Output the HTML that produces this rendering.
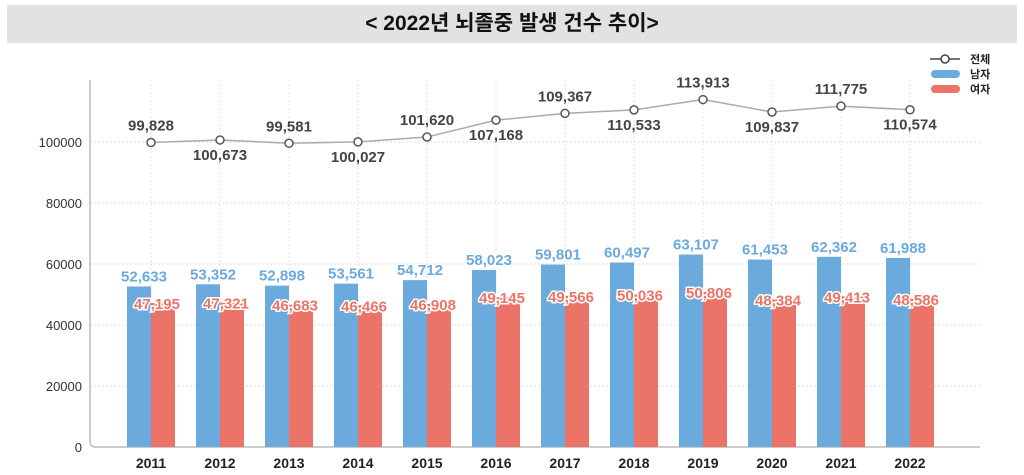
<!DOCTYPE html>
<html><head><meta charset="utf-8"><style>
body{margin:0;background:#fff;width:1024px;height:475px;overflow:hidden;font-family:"Liberation Sans","Noto Sans CJK KR",sans-serif}
#title{position:absolute;left:7px;top:5px;width:1010px;height:38px;background:#e2e2e2;text-align:center;line-height:38px;font-size:21px;font-weight:bold;color:#111;font-family:"Liberation Sans","Noto Sans CJK KR",sans-serif}
svg{position:absolute;left:0;top:0}
</style></head><body>
<div id="title">&lt; 2022년 뇌졸중 발생 건수 추이&gt;</div>
<svg id="chart" width="1024" height="475"></svg>
<script>
const years=["2011","2012","2013","2014","2015","2016","2017","2018","2019","2020","2021","2022"];
const total=[99828,100673,99581,100027,101620,107168,109367,110533,113913,109837,111775,110574];
const male=[52633,53352,52898,53561,54712,58023,59801,60497,63107,61453,62362,61988];
const female=[47195,47321,46683,46466,46908,49145,49566,50036,50806,48384,49413,48586];
const yTicks=[0,20000,40000,60000,80000,100000];
const NS="http://www.w3.org/2000/svg";
const svg=document.getElementById('chart');
const x0=90,x1=980,yTop=80,yZero=447,yMaxV=100000,y100=142;
const y=v=>yZero-(yZero-y100)*v/yMaxV;
const cx=i=>151+i*69;
const fmt=v=>v.toLocaleString('en-US');
function mk(t,a,p){const e=document.createElementNS(NS,t);for(const k in a)e.setAttribute(k,a[k]);(p||svg).appendChild(e);return e;}
// grid
yTicks.forEach(t=>{
 if(t>0){const g=mk('line',{x1:x0,x2:x1,y1:y(t),y2:y(t),stroke:'#ddd','stroke-dasharray':'2,2'});
 
 }
 const l=mk('text',{x:82,y:y(t)+5,'text-anchor':'end','font-size':13,fill:'#333'});l.textContent=t;
 
 
});
years.forEach((yr,i)=>{
 const g=mk('line',{x1:cx(i),x2:cx(i),y1:yTop,y2:yZero,stroke:'#e2e2e2','stroke-dasharray':'2,2'});
 
 
});
const ax=mk('path',{d:`M${x0},${yTop} V${yZero-6} Q${x0},${yZero} ${x0+6},${yZero} H${x1}`,fill:'none',stroke:'#bbb','stroke-width':1.5});


const bw=24;
years.forEach((yr,i)=>{
 const b=mk('rect',{x:cx(i)-bw,y:y(male[i]),width:bw,height:yZero-y(male[i]),fill:'#6aaadc'});
 
 
 const r=mk('rect',{x:cx(i),y:y(female[i]),width:bw,height:yZero-y(female[i]),fill:'#ec7368'});
 
 
 const xl=mk('text',{x:cx(i),y:468,'text-anchor':'middle','font-size':14,'font-weight':'bold',fill:'#222'});xl.textContent=yr;
 
 
});
years.forEach((yr,i)=>{
 const ml=mk('text',{x:cx(i)-7,y:y(male[i])-5,'text-anchor':'middle','font-size':15,'font-weight':'bold',fill:'#6aaadc',stroke:'#fff','stroke-width':2,'paint-order':'stroke'});ml.textContent=fmt(male[i]);
 
 
 const fl=mk('text',{x:cx(i)+6,y:y(female[i])+6,'text-anchor':'middle','font-size':15,'font-weight':'bold',fill:'#ec7368',stroke:'#fff','stroke-width':3,'paint-order':'stroke'});fl.textContent=fmt(female[i]);
 
 
});
const line=mk('polyline',{points:total.map((v,i)=>cx(i)+','+y(v)).join(' '),fill:'none',stroke:'#aaa','stroke-width':1.5});


total.forEach((v,i)=>{
 const c=mk('circle',{cx:cx(i),cy:y(v),r:4,fill:'#fff',stroke:'#555','stroke-width':1.5});
 
 
 const up=i%2===0;
 const t=mk('text',{x:cx(i),y:up?y(v)-12:y(v)+20,'text-anchor':'middle','font-size':15,'font-weight':'bold',fill:'#444'});t.textContent=fmt(v);
 
 
});
// legend
const lg=mk('g',{});


mk('line',{x1:930,x2:960,y1:59,y2:59,stroke:'#444','stroke-width':1.5},lg);
mk('circle',{cx:945,cy:59,r:4,fill:'#fff',stroke:'#444','stroke-width':1.5},lg);
mk('rect',{x:931,y:70,width:29,height:8,rx:4,fill:'#6aaadc'},lg);
mk('rect',{x:931,y:85,width:29,height:8,rx:4,fill:'#ec7368'},lg);
[['전체',63],['남자',78],['여자',93]].forEach(([s,yy])=>{const t=mk('text',{x:970,y:yy,'font-size':11,'font-weight':'bold',fill:'#222'},lg);t.textContent=s;
 
 });
</script>
</body></html>
